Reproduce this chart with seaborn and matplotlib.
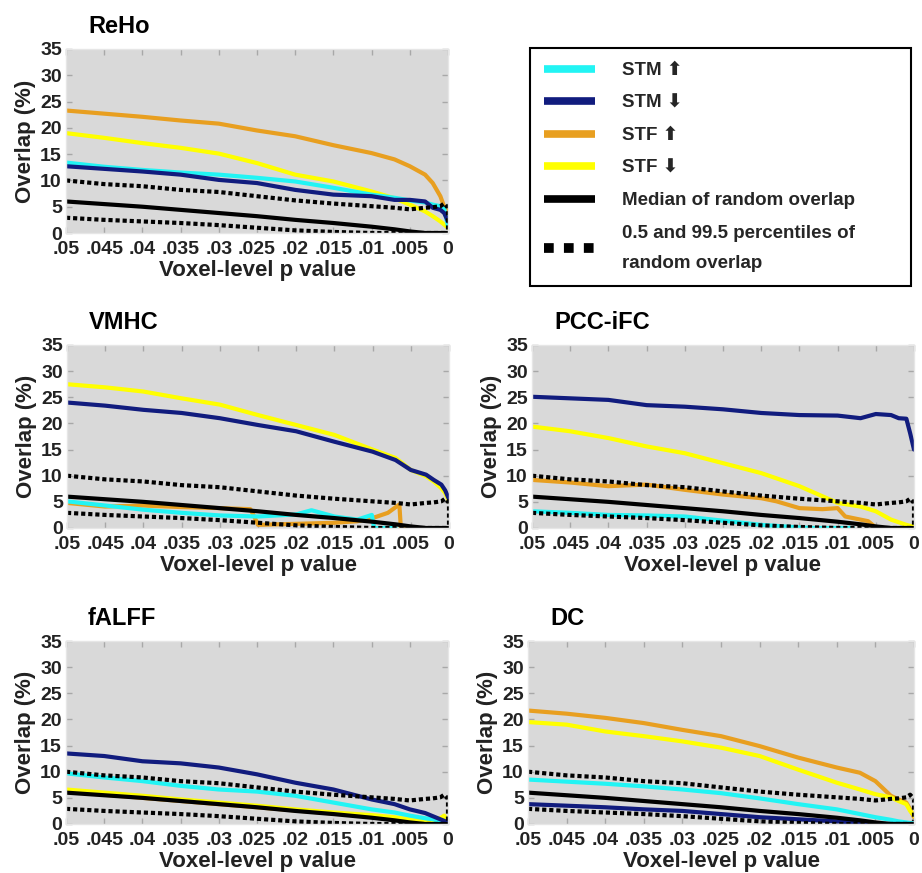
import numpy as np
import pandas as pd
import matplotlib
matplotlib.use("Agg")
import matplotlib.pyplot as plt
from matplotlib.lines import Line2D
import seaborn as sns

sns.set_theme(style="white")
plt.rcParams['font.family'] = ['Liberation Sans', 'DejaVu Sans']
plt.rcParams['font.weight'] = 'bold'

# ---------------- data ----------------
p_grid = [0.05, 0.045, 0.04, 0.035, 0.03, 0.025, 0.02, 0.015, 0.01, 0.007,
          0.005, 0.003, 0.002, 0.001, 0.0005, 0.0]

x_ticks = [0.05, 0.045, 0.04, 0.035, 0.03, 0.025, 0.02, 0.015, 0.01, 0.005, 0.0]
x_tick_labels = [".05", ".045", ".04", ".035", ".03", ".025", ".02", ".015", ".01", ".005", "0"]
y_ticks = [0, 5, 10, 15, 20, 25, 30, 35]

# random overlap (same null distribution in every panel)
rand_median = [6.0, 5.5, 5.0, 4.4, 3.8, 3.2, 2.5, 1.9, 1.2, 0.7, 0.3, 0.0, 0.0, 0.0, 0.0, 0.0]
rand_upper_x = [0.05, 0.045, 0.04, 0.035, 0.03, 0.025, 0.02, 0.015, 0.01, 0.007,
                0.005, 0.003, 0.002, 0.001, 0.0005, 0.0, 0.0]
rand_upper = [10.0, 9.3, 8.9, 8.2, 7.8, 7.0, 6.2, 5.6, 5.1, 4.8, 4.5, 4.8, 4.9, 5.1, 5.6, 4.8, 0.6]
rand_lower = [2.9, 2.5, 2.2, 1.9, 1.5, 1.0, 0.5, 0.2, 0.0, 0.0, 0.0, 0.0, 0.0, 0.0, 0.0, 0.0]

# ReHo
reho_stm_up = [13.4, 12.6, 12.0, 11.5, 11.1, 10.5, 9.8, 8.6, 7.3, 6.7, 6.2, 5.8, 5.4, 5.1, 4.6, 1.3]
reho_stm_down = [12.7, 12.2, 11.7, 11.1, 10.1, 9.5, 8.2, 7.3, 7.0, 6.3, 6.3, 6.0, 4.8, 4.4, 3.8, 2.2]
reho_stf_up = [23.3, 22.7, 22.1, 21.4, 20.8, 19.5, 18.4, 16.7, 15.2, 14.0, 12.7, 11.1, 9.5, 7.0, 5.0, 3.8]
reho_stf_down = [19.0, 18.1, 17.1, 16.2, 15.1, 13.3, 11.1, 9.8, 7.9, 6.6, 5.4, 4.1, 3.2, 2.2, 1.6, 1.0]

# VMHC
vmhc_stm_up_x = [0.05, 0.045, 0.04, 0.035, 0.03, 0.025, 0.02, 0.018, 0.015, 0.012, 0.0101, 0.0098, 0.007]
vmhc_stm_up = [5.1, 4.3, 3.5, 2.9, 2.4, 2.2, 2.6, 3.4, 2.2, 1.6, 2.5, 0.0, 0.0]
vmhc_stm_down = [24.0, 23.4, 22.6, 22.0, 21.0, 19.7, 18.5, 16.5, 14.6, 13.0, 11.1, 10.2, 9.2, 8.3, 7.2, 5.5]
vmhc_stf_up_x = [0.05, 0.045, 0.04, 0.035, 0.03, 0.026, 0.0255, 0.025, 0.02, 0.015, 0.012,
                 0.01, 0.008, 0.0065, 0.0063, 0.004]
vmhc_stf_up = [4.8, 4.1, 4.3, 4.0, 3.8, 3.6, 2.2, 0.6, 0.8, 1.0, 1.3, 1.9, 2.9, 4.5, 0.0, 0.0]
vmhc_stf_down = [27.5, 26.9, 26.1, 24.8, 23.6, 21.6, 19.7, 17.8, 15.0, 13.4, 11.1, 9.9, 8.9, 7.6, 6.7, 5.1]

# PCC-iFC
pcc_stm_up_x = [0.05, 0.045, 0.04, 0.035, 0.03, 0.025, 0.02, 0.015, 0.013, 0.008]
pcc_stm_up = [3.2, 2.9, 2.5, 2.4, 2.2, 1.4, 0.6, 0.1, 0.0, 0.0]
pcc_stm_down = [25.1, 24.8, 24.5, 23.5, 23.2, 22.7, 22.0, 21.6, 21.5, 21.0, 21.8, 21.6, 21.0, 20.9, 18.1, 15.0]
pcc_stf_up_x = [0.05, 0.045, 0.04, 0.035, 0.03, 0.025, 0.02, 0.018, 0.015, 0.012,
                0.01, 0.009, 0.007, 0.006, 0.005, 0.004]
pcc_stf_up = [9.2, 8.7, 8.0, 8.3, 7.3, 6.4, 5.7, 5.1, 3.8, 3.6, 3.8, 2.2, 1.6, 1.3, 0.1, 0.0]
pcc_stf_down = [19.4, 18.5, 17.2, 15.6, 14.3, 12.4, 10.5, 8.0, 4.8, 4.1, 3.2, 1.6, 1.1, 0.6, 0.4, 0.3]

# fALFF
falff_stm_up = [9.7, 8.9, 8.2, 7.3, 6.6, 6.2, 5.4, 4.1, 2.8, 2.2, 1.6, 1.1, 0.9, 0.6, 0.4, 0.3]
falff_stm_down = [13.5, 13.0, 12.0, 11.6, 10.8, 9.5, 7.9, 6.6, 4.7, 3.8, 2.8, 2.1, 1.5, 0.9, 0.6, 0.3]
falff_stf_up = [6.2, 5.6, 5.0, 4.4, 3.8, 3.2, 2.6, 2.0, 1.4, 1.0, 0.7, 0.4, 0.5, 0.9, 1.3, 0.5]
falff_stf_down = [6.6, 6.0, 5.4, 4.7, 4.1, 3.5, 2.8, 2.2, 1.7, 1.3, 0.9, 0.6, 0.8, 1.1, 1.6, 0.6]

# DC
dc_stm_up = [8.5, 8.1, 7.7, 7.2, 6.6, 5.9, 4.9, 3.8, 2.8, 1.9, 1.3, 0.8, 0.5, 0.3, 0.2, 0.1]
dc_stm_down = [3.8, 3.5, 3.2, 2.8, 2.5, 1.9, 1.3, 0.9, 0.5, 0.2, 0.0, 0.0, 0.0, 0.0, 0.0, 0.0]
dc_stf_up = [21.7, 21.1, 20.3, 19.3, 18.0, 16.8, 14.9, 12.7, 10.8, 9.8, 8.2, 5.4, 4.7, 4.1, 2.8, 1.3]
dc_stf_down = [19.5, 19.0, 17.7, 16.8, 15.8, 14.6, 13.0, 10.4, 7.9, 6.6, 5.7, 5.1, 4.4, 3.8, 2.5, 1.6]

series_labels = ["STM \u2b06", "STM \u2b07", "STF \u2b06", "STF \u2b07",
                 "Median of random overlap", "0.5 and 99.5 percentiles of\nrandom overlap"]
colors = ["#22f4f4", "#111c7e", "#e89f20", "#ffff00", "#000000"]

panels = {
    "ReHo": [(p_grid, reho_stm_up), (p_grid, reho_stm_down), (p_grid, reho_stf_up), (p_grid, reho_stf_down)],
    "VMHC": [(vmhc_stm_up_x, vmhc_stm_up), (p_grid, vmhc_stm_down), (vmhc_stf_up_x, vmhc_stf_up), (p_grid, vmhc_stf_down)],
    "PCC-iFC": [(pcc_stm_up_x, pcc_stm_up), (p_grid, pcc_stm_down), (pcc_stf_up_x, pcc_stf_up), (p_grid, pcc_stf_down)],
    "fALFF": [(p_grid, falff_stm_up), (p_grid, falff_stm_down), (p_grid, falff_stf_up), (p_grid, falff_stf_down)],
    "DC": [(p_grid, dc_stm_up), (p_grid, dc_stm_down), (p_grid, dc_stf_up), (p_grid, dc_stf_down)],
}

# axes rectangles in figure pixels: (left, right, top, bottom)
W, H = 922, 873
rects = {
    "ReHo": (66, 448, 49, 233),
    "VMHC": (67, 449, 345, 528),
    "PCC-iFC": (532, 914, 345, 528),
    "fALFF": (66, 448, 641, 824),
    "DC": (528, 914, 641, 824),
}

fig = plt.figure(figsize=(W / 100, H / 100), dpi=100)
fig.patch.set_facecolor("white")

dot_style = (0, (1, 0.7))
for name, series in panels.items():
    l, r, t, b = rects[name]
    ax = fig.add_axes([l / W, 1 - b / H, (r - l) / W, (b - t) / H])
    ax.set_facecolor("#d9d9d9")
    order = [2, 3, 0, 1]
    for i in order:
        xs, ys = series[i]
        sns.lineplot(x=xs, y=ys, ax=ax, color=colors[i], lw=3.0, sort=False,
                     estimator=None, legend=False)
    sns.lineplot(x=rand_upper_x, y=rand_upper, ax=ax, color="black", lw=3.0,
                 sort=False, estimator=None, linestyle=dot_style, legend=False)
    sns.lineplot(x=p_grid, y=rand_lower, ax=ax, color="black", lw=3.0,
                 sort=False, estimator=None, linestyle=dot_style, legend=False)
    sns.lineplot(x=p_grid, y=rand_median, ax=ax, color="black", lw=3.0,
                 sort=False, estimator=None, legend=False)
    ax.set_xlim(0.05, 0.0)
    ax.set_ylim(0, 35)
    ax.set_xticks(x_ticks)
    ax.set_xticklabels(x_tick_labels)
    ax.set_yticks(y_ticks)
    ax.tick_params(axis="both", direction="in", length=4, width=1, color="#a8a8a8",
                   labelsize=14, labelcolor="#222222", top=True, right=True,
                   bottom=True, left=True)
    ax.tick_params(axis="x", pad=6)
    ax.tick_params(axis="y", pad=3)
    for lab in ax.get_xticklabels() + ax.get_yticklabels():
        lab.set_fontweight("bold")
    for sp in ax.spines.values():
        sp.set_color("#e6e6e6")
        sp.set_linewidth(1)
    ax.set_xlabel("Voxel-level p value", fontsize=16, fontweight="bold",
                  color="#222222", labelpad=1)
    ax.set_ylabel("Overlap (%)", fontsize=16, fontweight="bold",
                  color="#222222", labelpad=3)
    ax.text(22 / (r - l), 1 + 16 / (b - t), name, transform=ax.transAxes,
            fontsize=17, fontweight="bold", color="black", va="baseline", ha="left")

# legend panel
handles = [Line2D([0], [0], color=c, lw=5.5, solid_capstyle="butt") for c in colors[:4]]
handles.append(Line2D([0], [0], color="black", lw=5.5, solid_capstyle="butt"))
handles.append(Line2D([0], [0], color="black", lw=7, linestyle=(0, (1, 1.05)),
                      dash_capstyle="butt"))
leg = fig.legend(handles, series_labels, loc="upper left",
                 bbox_to_anchor=(530 / W, 1 - 283 / H, (911 - 530) / W, (283 - 48) / H),
                 mode="expand", frameon=True, fancybox=False, edgecolor="black",
                 framealpha=1, prop={"weight": "bold", "size": 13.5},
                 handlelength=2.7, handletextpad=1.45, labelspacing=0.82,
                 borderpad=0.75, borderaxespad=0)
leg.get_frame().set_linewidth(1.5)
leg.get_texts()[5].set_linespacing(2.05)

fig.savefig("out.png", dpi=100)
